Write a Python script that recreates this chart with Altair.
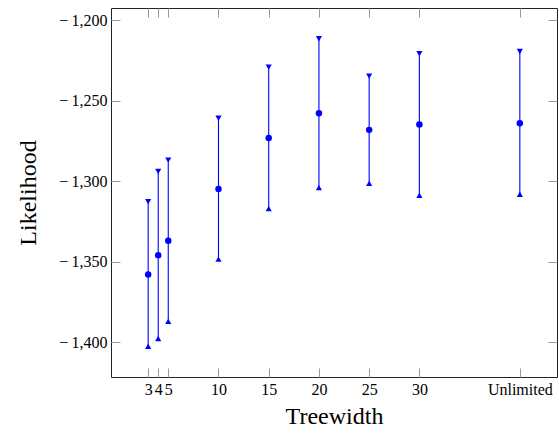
import altair as alt
import pandas as pd

# Data
treewidth = [3, 4, 5, 10, 15, 20, 25, 30, 40]  # 40 shown as "Unlimited"
mean_ll = [-1357.9, -1345.9, -1337.0, -1304.8, -1273.1, -1257.8, -1268.1, -1264.8, -1264.0]
upper_ll = [-1312.7, -1293.9, -1286.9, -1260.9, -1229.1, -1211.5, -1234.7, -1220.8, -1219.4]
lower_ll = [-1402.5, -1397.7, -1387.0, -1348.4, -1317.0, -1304.0, -1301.3, -1308.7, -1308.1]
x_tick_values = [3, 4, 5, 10, 15, 20, 25, 30, 40]
y_tick_values = [-1400, -1350, -1300, -1250, -1200]

df = pd.DataFrame({"tw": treewidth, "mean": mean_ll, "hi": upper_ll, "lo": lower_ll})

FONT = "Liberation Serif"
BLUE = "#0000ff"
TICK = 9
TICKCOLOR = "#9a9a9a"

xscale = alt.Scale(domain=[-0.7, 43.7], nice=False, zero=False)
yscale = alt.Scale(domain=[-1421.6, -1192.4], nice=False, zero=False)

x_bottom = alt.Axis(
    orient="bottom", values=x_tick_values,
    labelExpr="datum.value == 40 ? 'Unlimited' : format(datum.value, 'd')",
    domain=False, grid=False, offset=-TICK, tickSize=TICK, tickColor=TICKCOLOR,
    labelPadding=4, labelFont=FONT, labelFontSize=16, labelColor="black",
    labelOverlap=False, labelFlush=False, labelBound=False,
    title="Treewidth", titleFont=FONT, titleFontSize=24, titleFontWeight="normal",
    titleColor="black", titlePadding=7,
)
y_left = alt.Axis(
    orient="left", values=y_tick_values,
    labelExpr="'\u2212\u2009' + format(-datum.value, ',')",
    domain=False, grid=False, offset=-TICK, tickSize=TICK, tickColor=TICKCOLOR,
    labelPadding=4, labelFont=FONT, labelFontSize=16, labelColor="black",
    labelOverlap=False, labelFlush=False, labelBound=False,
    title="Likelihood", titleFont=FONT, titleFontSize=24, titleFontWeight="normal",
    titleColor="black", titlePadding=18,
)
x_top = alt.Axis(
    orient="top", values=x_tick_values, labels=False, domain=False, grid=False,
    offset=-TICK, tickSize=TICK, tickColor=TICKCOLOR, title="",
)
y_right = alt.Axis(
    orient="right", values=y_tick_values, labels=False, domain=False, grid=False,
    offset=-TICK, tickSize=TICK, tickColor=TICKCOLOR, title="",
)

base = alt.Chart(df)

bars = base.mark_rule(color=BLUE, strokeWidth=1.1).encode(
    x=alt.X("tw:Q", scale=xscale, axis=x_bottom),
    y=alt.Y("lo:Q", scale=yscale, axis=y_left),
    y2="hi:Q",
)
means = base.mark_point(shape="circle", filled=True, size=42, color=BLUE, opacity=1).encode(
    x=alt.X("tw:Q", scale=xscale, axis=None),
    y=alt.Y("mean:Q", scale=yscale, axis=None),
)
caps_hi = base.mark_point(shape="triangle-down", filled=True, size=38, color=BLUE, opacity=1).encode(
    x=alt.X("tw:Q", scale=xscale, axis=x_top),
    y=alt.Y("hi:Q", scale=yscale, axis=y_right),
)
caps_lo = base.mark_point(shape="triangle-up", filled=True, size=38, color=BLUE, opacity=1).encode(
    x=alt.X("tw:Q", scale=xscale, axis=None),
    y=alt.Y("lo:Q", scale=yscale, axis=None),
)

chart = (
    alt.layer(bars, means, caps_hi, caps_lo)
    .resolve_axis(x="independent", y="independent")
    .properties(
        width=446, height=369,
        padding={"left": 111, "top": 8, "right": 2, "bottom": 66},
        autosize="none",
        background="white",
    )
    .configure_view(stroke="#222222", strokeWidth=1)
)

chart.save("out.html", embed_options={"renderer": "svg", "actions": False})
